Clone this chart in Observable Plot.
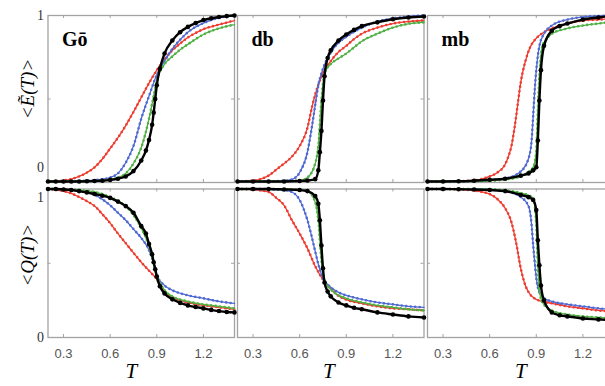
<!DOCTYPE html>
<html><head><meta charset="utf-8">
<script src="https://cdn.jsdelivr.net/npm/d3@7"></script>
<script src="https://cdn.jsdelivr.net/npm/@observablehq/plot@0.6"></script>
<style>
html,body{margin:0;padding:0;background:#fff;overflow:hidden;}
#fig{position:relative;width:605px;height:386px;overflow:hidden;background:#fff;}
#fig svg{position:absolute;}
</style></head><body><div id="fig"></div>
<script>
// ---- categories / tick labels ----
const models = ["Gō", "db", "mb"];
const xTicks = [0.3, 0.6, 0.9, 1.2];
const yLabels = ["<Ẽ(T)>", "<Q(T)>"];

// ---- top row: <Ẽ(T)>  [T, value] ----
const goE_red = [[0.2,-0.093],[0.25,-0.092],[0.3,-0.087],[0.35,-0.077],[0.4,-0.06],[0.45,-0.035],[0.5,0.0],[0.55,0.055],[0.6,0.124],[0.65,0.195],[0.7,0.275],[0.75,0.365],[0.8,0.46],[0.85,0.555],[0.9,0.64],[0.95,0.71],[1.0,0.77],[1.05,0.815],[1.1,0.855],[1.15,0.885],[1.2,0.91],[1.3,0.94],[1.4,0.967]];
const goE_blue = [[0.2,-0.093],[0.3,-0.093],[0.4,-0.09],[0.5,-0.085],[0.55,-0.078],[0.6,-0.067],[0.65,-0.04],[0.7,0.03],[0.75,0.14],[0.8,0.32],[0.85,0.47],[0.9,0.61],[0.95,0.70],[1.0,0.78],[1.05,0.84],[1.1,0.89],[1.2,0.95],[1.3,0.985],[1.4,1.0]];
const goE_green = [[0.2,-0.093],[0.3,-0.093],[0.4,-0.092],[0.5,-0.09],[0.6,-0.08],[0.65,-0.068],[0.7,-0.04],[0.75,0.025],[0.8,0.13],[0.85,0.32],[0.88,0.47],[0.9,0.57],[0.95,0.68],[1.0,0.73],[1.05,0.775],[1.1,0.81],[1.2,0.875],[1.3,0.915],[1.4,0.94]];
const goE_black = [[0.2,-0.093],[0.25,-0.093],[0.3,-0.093],[0.35,-0.093],[0.4,-0.093],[0.45,-0.092],[0.5,-0.09],[0.55,-0.088],[0.6,-0.083],[0.65,-0.075],[0.7,-0.06],[0.75,-0.025],[0.8,0.045],[0.83,0.11],[0.85,0.18],[0.87,0.28],[0.88,0.36],[0.89,0.45],[0.9,0.54],[0.92,0.65],[0.95,0.75],[1.0,0.835],[1.05,0.89],[1.1,0.925],[1.15,0.95],[1.2,0.97],[1.25,0.982],[1.3,0.99],[1.35,0.996],[1.4,1.0]];

const dbE_red = [[0.2,-0.093],[0.3,-0.087],[0.35,-0.077],[0.4,-0.055],[0.45,-0.015],[0.5,0.025],[0.55,0.07],[0.6,0.14],[0.65,0.26],[0.68,0.4],[0.7,0.48],[0.75,0.62],[0.8,0.70],[0.85,0.76],[0.9,0.80],[0.95,0.845],[1.0,0.88],[1.1,0.92],[1.2,0.947],[1.3,0.96],[1.4,0.967]];
const dbE_blue = [[0.2,-0.093],[0.3,-0.093],[0.4,-0.092],[0.5,-0.088],[0.55,-0.08],[0.6,-0.034],[0.65,0.1],[0.68,0.275],[0.7,0.41],[0.72,0.54],[0.75,0.65],[0.8,0.756],[0.85,0.82],[0.9,0.86],[1.0,0.92],[1.1,0.96],[1.2,0.98],[1.3,0.993],[1.4,1.0]];
const dbE_green = [[0.2,-0.093],[0.3,-0.093],[0.4,-0.093],[0.5,-0.091],[0.6,-0.087],[0.65,-0.067],[0.7,0.025],[0.72,0.14],[0.74,0.44],[0.76,0.62],[0.8,0.68],[0.85,0.717],[0.9,0.75],[0.95,0.79],[1.0,0.83],[1.1,0.88],[1.2,0.92],[1.3,0.945],[1.4,0.955]];
const dbE_black = [[0.2,-0.093],[0.3,-0.093],[0.4,-0.093],[0.5,-0.093],[0.6,-0.09],[0.65,-0.087],[0.7,-0.078],[0.72,-0.02],[0.73,0.1],[0.74,0.24],[0.75,0.44],[0.76,0.6],[0.78,0.72],[0.8,0.77],[0.85,0.835],[0.9,0.875],[0.95,0.905],[1.0,0.93],[1.1,0.955],[1.2,0.975],[1.3,0.987],[1.4,0.993]];

const mbE_red = [[0.2,-0.093],[0.3,-0.093],[0.4,-0.091],[0.5,-0.087],[0.55,-0.077],[0.6,-0.06],[0.65,-0.034],[0.7,0.02],[0.72,0.07],[0.74,0.14],[0.76,0.26],[0.78,0.41],[0.8,0.56],[0.83,0.70],[0.86,0.79],[0.9,0.85],[0.95,0.89],[1.0,0.915],[1.1,0.947],[1.2,0.967],[1.3,0.973],[1.4,0.98]];
const mbE_blue = [[0.2,-0.093],[0.3,-0.093],[0.4,-0.093],[0.5,-0.091],[0.6,-0.087],[0.7,-0.074],[0.8,-0.027],[0.85,0.058],[0.87,0.177],[0.88,0.34],[0.89,0.51],[0.9,0.64],[0.92,0.80],[0.95,0.88],[1.0,0.934],[1.1,0.973],[1.2,0.99],[1.3,0.997],[1.4,1.0]];
const mbE_green = [[0.2,-0.093],[0.3,-0.093],[0.4,-0.093],[0.5,-0.091],[0.6,-0.088],[0.7,-0.08],[0.8,-0.06],[0.85,-0.03],[0.88,0.0],[0.9,0.11],[0.91,0.37],[0.92,0.6],[0.94,0.8],[0.97,0.85],[1.0,0.88],[1.1,0.915],[1.2,0.934],[1.3,0.947],[1.4,0.96]];
const mbE_black = [[0.2,-0.093],[0.3,-0.093],[0.4,-0.092],[0.5,-0.088],[0.6,-0.082],[0.7,-0.075],[0.8,-0.055],[0.85,-0.04],[0.88,-0.02],[0.9,0.0],[0.91,0.177],[0.92,0.44],[0.93,0.64],[0.95,0.8],[1.0,0.9],[1.05,0.93],[1.1,0.947],[1.2,0.973],[1.3,0.987],[1.4,1.0]];

// ---- bottom row: <Q(T)>  [T, value] ----
const goQ_red = [[0.2,1.0],[0.25,0.995],[0.3,0.986],[0.35,0.97],[0.4,0.946],[0.45,0.918],[0.5,0.885],[0.55,0.83],[0.6,0.77],[0.65,0.70],[0.7,0.635],[0.75,0.57],[0.8,0.507],[0.85,0.45],[0.9,0.392],[0.95,0.31],[1.0,0.27],[1.1,0.236],[1.2,0.216],[1.3,0.203],[1.4,0.19]];
const goQ_blue = [[0.2,1.0],[0.3,0.997],[0.4,0.99],[0.5,0.96],[0.55,0.93],[0.6,0.89],[0.65,0.84],[0.7,0.79],[0.75,0.73],[0.8,0.67],[0.85,0.588],[0.88,0.5],[0.9,0.42],[0.95,0.35],[1.0,0.318],[1.1,0.284],[1.2,0.264],[1.3,0.243],[1.4,0.23]];
const goQ_green = [[0.2,1.0],[0.3,0.997],[0.4,0.993],[0.5,0.98],[0.6,0.946],[0.65,0.92],[0.7,0.885],[0.75,0.824],[0.8,0.736],[0.85,0.615],[0.88,0.5],[0.9,0.42],[0.95,0.318],[1.0,0.277],[1.1,0.243],[1.2,0.223],[1.3,0.21],[1.4,0.196]];
const goQ_black = [[0.2,1.0],[0.25,1.0],[0.3,0.997],[0.35,0.993],[0.4,0.986],[0.45,0.977],[0.5,0.966],[0.55,0.955],[0.6,0.94],[0.65,0.915],[0.7,0.885],[0.75,0.84],[0.8,0.75],[0.83,0.70],[0.85,0.63],[0.87,0.56],[0.88,0.507],[0.89,0.46],[0.9,0.41],[0.92,0.345],[0.95,0.297],[1.0,0.257],[1.05,0.233],[1.1,0.216],[1.15,0.205],[1.2,0.196],[1.25,0.186],[1.3,0.178],[1.35,0.172],[1.4,0.169]];

const dbQ_red = [[0.2,1.0],[0.3,0.997],[0.35,0.99],[0.4,0.98],[0.45,0.94],[0.5,0.89],[0.55,0.79],[0.6,0.70],[0.65,0.6],[0.7,0.48],[0.75,0.39],[0.8,0.33],[0.85,0.28],[0.9,0.255],[1.0,0.23],[1.1,0.21],[1.2,0.196],[1.3,0.19],[1.4,0.182]];
const dbQ_blue = [[0.2,1.0],[0.3,1.0],[0.4,0.997],[0.5,0.993],[0.55,0.98],[0.6,0.926],[0.65,0.79],[0.7,0.58],[0.72,0.493],[0.75,0.4],[0.8,0.338],[0.85,0.304],[0.9,0.284],[1.0,0.257],[1.1,0.236],[1.2,0.223],[1.3,0.21],[1.4,0.203]];
const dbQ_green = [[0.2,1.0],[0.3,1.0],[0.4,1.0],[0.5,0.997],[0.6,0.995],[0.65,0.986],[0.7,0.912],[0.72,0.79],[0.74,0.52],[0.76,0.385],[0.8,0.324],[0.85,0.284],[0.9,0.264],[1.0,0.236],[1.1,0.216],[1.2,0.203],[1.3,0.19],[1.4,0.182]];
const dbQ_black = [[0.2,1.0],[0.3,1.0],[0.4,1.0],[0.5,0.997],[0.6,0.993],[0.65,0.986],[0.7,0.953],[0.72,0.9],[0.73,0.79],[0.74,0.62],[0.75,0.466],[0.76,0.37],[0.78,0.31],[0.8,0.277],[0.85,0.236],[0.9,0.216],[0.95,0.2],[1.0,0.19],[1.1,0.169],[1.2,0.155],[1.3,0.142],[1.4,0.135]];

const mbQ_red = [[0.2,1.0],[0.3,1.0],[0.4,0.997],[0.5,0.99],[0.55,0.98],[0.6,0.966],[0.65,0.932],[0.7,0.87],[0.74,0.777],[0.77,0.64],[0.8,0.466],[0.83,0.35],[0.86,0.29],[0.9,0.257],[1.0,0.23],[1.1,0.21],[1.2,0.196],[1.3,0.182],[1.4,0.176]];
const mbQ_blue = [[0.2,1.0],[0.3,1.0],[0.4,1.0],[0.5,0.998],[0.6,0.997],[0.7,0.986],[0.8,0.946],[0.85,0.885],[0.87,0.757],[0.88,0.62],[0.89,0.507],[0.9,0.4],[0.92,0.304],[0.95,0.264],[1.0,0.243],[1.1,0.223],[1.2,0.21],[1.3,0.196],[1.4,0.19]];
const mbQ_green = [[0.2,1.0],[0.3,1.0],[0.4,1.0],[0.5,0.998],[0.6,0.997],[0.7,0.99],[0.8,0.973],[0.88,0.94],[0.9,0.757],[0.91,0.486],[0.92,0.318],[0.94,0.236],[1.0,0.182],[1.1,0.155],[1.2,0.142],[1.3,0.135],[1.4,0.128]];
const mbQ_black = [[0.2,1.0],[0.3,1.0],[0.4,0.998],[0.5,0.997],[0.6,0.993],[0.7,0.986],[0.8,0.96],[0.85,0.945],[0.88,0.926],[0.9,0.858],[0.91,0.655],[0.92,0.486],[0.93,0.35],[0.95,0.25],[1.0,0.169],[1.05,0.15],[1.1,0.142],[1.2,0.128],[1.3,0.122],[1.4,0.115]];

// ---- assemble ----
const rowData = [
  [{red:goE_red, blue:goE_blue, green:goE_green, black:goE_black},
   {red:dbE_red, blue:dbE_blue, green:dbE_green, black:dbE_black},
   {red:mbE_red, blue:mbE_blue, green:mbE_green, black:mbE_black}],
  [{red:goQ_red, blue:goQ_blue, green:goQ_green, black:goQ_black},
   {red:dbQ_red, blue:dbQ_blue, green:dbQ_green, black:dbQ_black},
   {red:mbQ_red, blue:mbQ_blue, green:mbQ_green, black:mbQ_black}]
];
const colors = {red:"#ee3b30", blue:"#4f69d2", green:"#4fb043", black:"#000"};
const frameColor = "#a3a3a3";
const innerW = 186.5;
const cols = [{left:0, ml:47.5, mr:1, tdx:-10}, {left:235.7, ml:1, mr:1, tdx:-2}, {left:426.3, ml:1, mr:1, tdx:0}];
const rows = [
  {top:0, mt:15, ih:167, mb:2, domain:[-0.1,1], mid:0.45, ldy:-10},
  {top:186, mt:2.5, ih:148.5, mb:50, domain:[0,1], mid:0.5, ldy:-8}
];
const X = d => d[0], Y = d => d[1];
const serif = "'Liberation Serif', 'Times New Roman', serif";

function makePanel(r, c) {
  const row = rows[r], col = cols[c], sers = rowData[r][c];
  const marks = [
    Plot.frame({stroke: frameColor, strokeWidth: 1.3}),
    Plot.tickX(xTicks, {x: d => d, stroke: frameColor, insetBottom: row.ih - 3}),
    Plot.tickX(xTicks, {x: d => d, stroke: frameColor, insetTop: row.ih - 3}),
    Plot.tickY([row.mid], {y: d => d, stroke: frameColor, insetRight: innerW - 3}),
    Plot.tickY([row.mid], {y: d => d, stroke: frameColor, insetLeft: innerW - 3})
  ];
  for (const s of ["red", "blue", "green"]) {
    marks.push(Plot.line(sers[s], {x: X, y: Y, stroke: colors[s], strokeWidth: 1.3, curve: "monotone-x"}));
    marks.push(Plot.line(sers[s], {x: X, y: Y, stroke: colors[s], strokeWidth: 2.6, strokeDasharray: "0,4.5", strokeLinecap: "round", curve: "monotone-x"}));
  }
  marks.push(Plot.line(sers.black, {x: X, y: Y, stroke: colors.black, strokeWidth: 2.4, curve: "monotone-x"}));
  marks.push(Plot.dot(sers.black, {x: X, y: Y, r: 2.3, fill: colors.black}));
  if (r === 0) {
    marks.push(Plot.text([models[c]], {frameAnchor: "top-left", dx: 14, dy: 16, lineAnchor: "top", textAnchor: "start",
      fontWeight: "bold", fontSize: 20, fontFamily: serif, fill: "#000"}));
  }
  if (c === 0) {
    const ax = {tickSize: 0, tickPadding: 4, label: null, fontSize: 14, fontFamily: serif, color: "#333", tickFormat: d3.format("d")};
    if (r === 0) marks.push(Plot.axisY({...ax, ticks: [0, 1]}));
    else { marks.push(Plot.axisY({...ax, ticks: [0]})); marks.push(Plot.axisY({...ax, ticks: [1], dy: 9})); }
    marks.push(Plot.text([yLabels[r]], {frameAnchor: "left", dx: -20, dy: row.ldy, rotate: -90, textAnchor: "middle",
      fontSize: 19, fontStyle: "italic", fontFamily: serif, fill: "#000"}));
  }
  if (r === 1) {
    marks.push(Plot.axisX({ticks: xTicks, tickSize: 0, tickPadding: 11, tickFormat: d3.format(".1f"), label: null,
      fontSize: 13, fontFamily: "'Liberation Sans', Arial, sans-serif", color: "#555"}));
    marks.push(Plot.text(["T"], {frameAnchor: "bottom", dx: col.tdx, dy: 26, lineAnchor: "top", textAnchor: "middle",
      fontSize: 21, fontStyle: "italic", fontFamily: serif, fill: "#000"}));
  }
  const svg = Plot.plot({
    width: col.ml + innerW + col.mr,
    height: row.mt + row.ih + row.mb,
    marginLeft: col.ml, marginRight: col.mr, marginTop: row.mt, marginBottom: row.mb,
    x: {domain: [0.2, 1.4], ...(r === 1 ? {} : {axis: null})},
    y: {domain: row.domain, ...(c === 0 ? {} : {axis: null})},
    style: {background: "transparent", overflow: "visible"},
    marks
  });
  svg.style.position = "absolute";
  svg.style.left = col.left + "px";
  svg.style.top = row.top + "px";
  svg.style.maxWidth = "none";
  return svg;
}

const fig = document.getElementById("fig");
for (let r = 0; r < 2; r++) for (let c = 0; c < 3; c++) fig.appendChild(makePanel(r, c));
</script>
</body></html>
